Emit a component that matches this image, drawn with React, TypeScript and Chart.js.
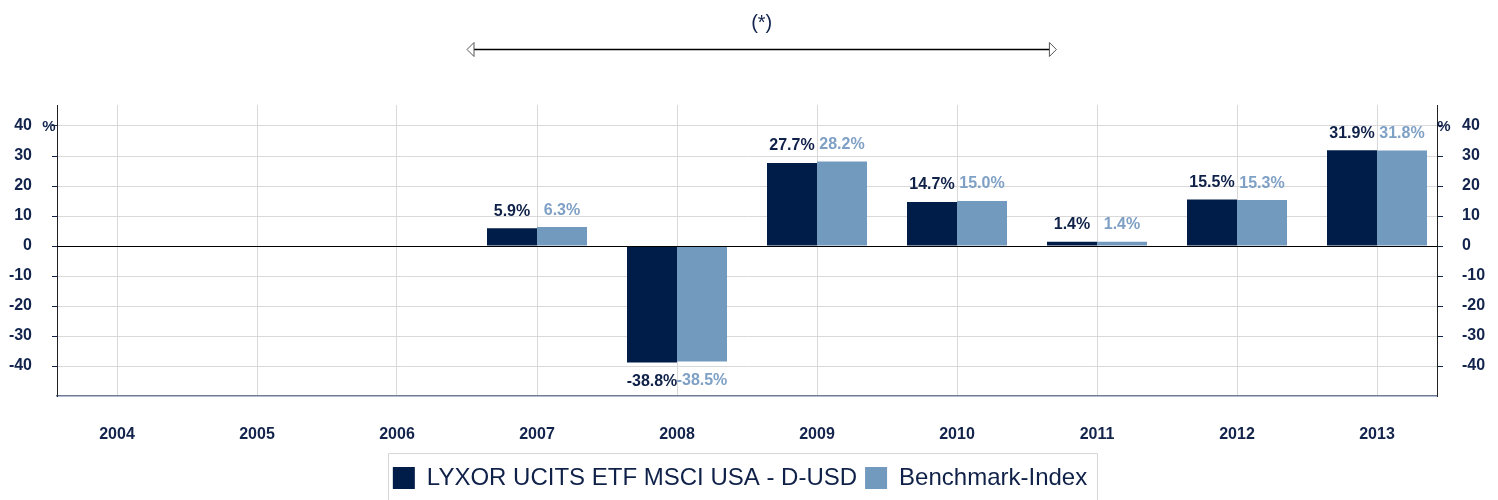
import React, { useEffect, useRef } from 'react';
import { Chart, registerables } from 'chart.js';

Chart.register(...registerables);

const years = ['2004', '2005', '2006', '2007', '2008', '2009', '2010', '2011', '2012', '2013'];
const fundValues: (number | null)[] = [null, null, null, 5.9, -38.8, 27.7, 14.7, 1.4, 15.5, 31.9];
const benchValues: (number | null)[] = [null, null, null, 6.3, -38.5, 28.2, 15.0, 1.4, 15.3, 31.8];
const yTicks = [-40, -30, -20, -10, 0, 10, 20, 30, 40];
const seriesNames = ['LYXOR UCITS ETF MSCI USA - D-USD', 'Benchmark-Index'];
const arrowSpan = [2.5, 6.71];
const arrowLabel = '(*)';

const FONT = '"Liberation Sans", Arial, Helvetica, sans-serif';
const NAVY = '#13244c';
const DARK_BAR = '#001d4a';
const LIGHT_BAR = '#7299be';
const DARK_LABEL = '#0f2148';
const LIGHT_LABEL = '#7fa0c5';
const LEGEND_SHIFT = -9;

const valueLabels = {
  id: 'valueLabels',
  afterLayout(chart: any) {
    const lg = chart.legend;
    if (lg) {
      lg.left += LEGEND_SHIFT;
      lg.right += LEGEND_SHIFT;
    }
  },
  afterDatasetsDraw(chart: any) {
    const ctx = chart.ctx;
    const { chartArea, scales } = chart;
    const y0 = Math.round(scales.y.getPixelForValue(0)) + 0.5;
    ctx.save();
    ctx.strokeStyle = '#000';
    ctx.lineWidth = 1;
    ctx.beginPath();
    ctx.moveTo(chartArea.left, y0);
    ctx.lineTo(chartArea.right, y0);
    ctx.stroke();

    ctx.font = `bold 16px ${FONT}`;
    ctx.textAlign = 'center';
    ctx.textBaseline = 'middle';
    chart.data.datasets.forEach((ds: any, di: number) => {
      const meta = chart.getDatasetMeta(di);
      ctx.fillStyle = di === 0 ? DARK_LABEL : LIGHT_LABEL;
      meta.data.forEach((el: any, i: number) => {
        const v = ds.data[i].y;
        if (v === null || v === undefined) return;
        const y = v >= 0 ? el.y - 17 : el.y + 19;
        ctx.fillText(v.toFixed(1) + '%', el.x, y);
      });
    });
    ctx.restore();
  },
};

const decorations = {
  id: 'decorations',
  afterDraw(chart: any) {
    const ctx = chart.ctx;
    const { chartArea, scales } = chart;
    ctx.save();
    const yp = scales.y.getPixelForValue(yTicks[yTicks.length - 1]);
    ctx.font = `bold 15px ${FONT}`;
    ctx.fillStyle = NAVY;
    ctx.textBaseline = 'middle';
    ctx.textAlign = 'center';
    ctx.fillText('%', chartArea.left - 8, yp + 1);
    ctx.fillText('%', chartArea.right + 7, yp + 1);

    const x1 = scales.x.getPixelForValue(arrowSpan[0]);
    const x2 = scales.x.getPixelForValue(arrowSpan[1]);
    const ya = 49.5;
    ctx.strokeStyle = '#000';
    ctx.lineWidth = 1.5;
    ctx.beginPath();
    ctx.moveTo(x1 + 6, ya);
    ctx.lineTo(x2 - 6, ya);
    ctx.stroke();
    ctx.lineWidth = 1;
    ctx.strokeStyle = '#555';
    ctx.fillStyle = '#fff';
    ctx.beginPath();
    ctx.moveTo(x1, ya);
    ctx.lineTo(x1 + 7, ya - 7);
    ctx.lineTo(x1 + 7, ya + 7);
    ctx.closePath();
    ctx.fill();
    ctx.stroke();
    ctx.beginPath();
    ctx.moveTo(x2, ya);
    ctx.lineTo(x2 - 7, ya - 7);
    ctx.lineTo(x2 - 7, ya + 7);
    ctx.closePath();
    ctx.fill();
    ctx.stroke();
    ctx.font = `20px ${FONT}`;
    ctx.fillStyle = NAVY;
    ctx.textAlign = 'center';
    ctx.fillText(arrowLabel, (x1 + x2) / 2, 23);

    const lg = chart.legend;
    const hb = lg && lg.legendHitBoxes;
    if (hb && hb.length) {
      const first = hb[0];
      const last = hb[hb.length - 1];
      const left = Math.round(first.left - 5) + 0.5;
      const right = Math.round(last.left + last.width + 10) + 0.5;
      const top = Math.round(first.top - 13) + 0.5;
      ctx.strokeStyle = '#d6d6d6';
      ctx.lineWidth = 1;
      ctx.beginPath();
      ctx.moveTo(left, chart.height + 2);
      ctx.lineTo(left, top);
      ctx.lineTo(right, top);
      ctx.lineTo(right, chart.height + 2);
      ctx.stroke();
    }
    ctx.restore();
  },
};

export default function App() {
  const ref = useRef<HTMLCanvasElement | null>(null);

  useEffect(() => {
    document.body.style.margin = '0';
    if (!ref.current) return;
    Chart.defaults.font.family = FONT;
    const chart = new Chart(ref.current, {
      type: 'bar',
      data: {
        datasets: [
          {
            label: seriesNames[0],
            data: fundValues.map((v, i) => ({ x: i, y: v })) as any,
            backgroundColor: DARK_BAR,
            borderWidth: 0,
            categoryPercentage: 100 / 140,
            barPercentage: 1,
          },
          {
            label: seriesNames[1],
            data: benchValues.map((v, i) => ({ x: i, y: v })) as any,
            backgroundColor: LIGHT_BAR,
            borderWidth: 0,
            categoryPercentage: 100 / 140,
            barPercentage: 1,
          },
        ],
      },
      options: {
        animation: false,
        responsive: false,
        layout: { padding: { top: 105, left: 0, right: 0, bottom: 0 } },
        plugins: {
          tooltip: { enabled: false },
          legend: {
            position: 'bottom',
            labels: {
              boxWidth: 22,
              boxHeight: 22,
              padding: 8,
              color: DARK_LABEL,
              font: { size: 24, family: FONT },
            },
          },
        },
        scales: {
          x: {
            type: 'linear',
            offset: false,
            min: -60 / 140,
            max: years.length - 1 + 60 / 140,
            afterBuildTicks: (s: any) => {
              s.ticks = years.map((_, i) => ({ value: i }));
            },
            afterFit: (s: any) => {
              s.height = 62;
            },
            grid: { color: '#d9d9d9', drawTicks: false, offset: false },
            border: { color: '#6d7c99', width: 1.5 },
            ticks: {
              autoSkip: false,
              maxRotation: 0,
              padding: 29,
              color: NAVY,
              font: { size: 16, weight: 'bold' },
              callback: (v: any) => years[v as number],
            },
          },
          y: {
            position: 'left',
            min: -50,
            max: 47,
            afterBuildTicks: (s: any) => {
              s.ticks = yTicks.map((v) => ({ value: v }));
            },
            afterFit: (s: any) => {
              s.width = 57;
            },
            grid: { color: '#d9d9d9', tickColor: NAVY, tickLength: 5 },
            border: { color: '#222' },
            ticks: { padding: 20, color: NAVY, font: { size: 16, weight: 'bold' } },
          },
          y2: {
            position: 'right',
            min: -50,
            max: 47,
            afterBuildTicks: (s: any) => {
              s.ticks = yTicks.map((v) => ({ value: v }));
            },
            afterFit: (s: any) => {
              s.width = 61;
            },
            grid: { drawOnChartArea: false, tickColor: NAVY, tickLength: 6 },
            border: { color: '#222' },
            ticks: { padding: 19, color: NAVY, font: { size: 16, weight: 'bold' } },
          },
        },
      } as any,
      plugins: [valueLabels, decorations],
    });
    return () => chart.destroy();
  }, []);

  return (
    <div style={{ width: 1498, height: 500 }}>
      <canvas ref={ref} width={1498} height={500} style={{ display: 'block' }} />
    </div>
  );
}
